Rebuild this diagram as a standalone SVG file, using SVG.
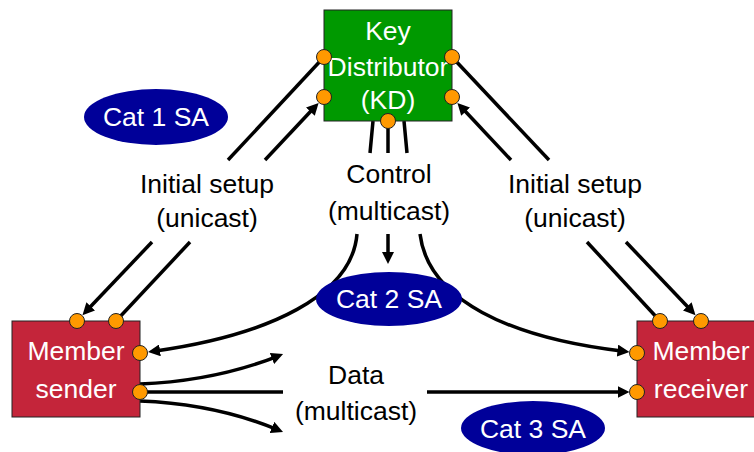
<svg xmlns="http://www.w3.org/2000/svg" width="754" height="452" viewBox="0 0 754 452">
  <defs>
    <marker id="arrow" viewBox="0 0 12 12" refX="6" refY="6" markerWidth="12" markerHeight="12" markerUnits="userSpaceOnUse" orient="auto">
      <path d="M0,0 L12,6 L0,12 z" fill="#000"/>
    </marker>
  </defs>
  <style>
    text { font-family: "Liberation Sans", Arial, sans-serif; font-size: 26.5px; text-anchor: middle; }
    .lbl { fill: #000; }
    .wt { fill: #fff; }
    .conn { fill: none; stroke: #000; stroke-width: 3.5; }
    .arr { marker-end: url(#arrow); }
    .port { fill: #FF9900; stroke: #222; stroke-width: 1; }
    .kd { fill: #009900; stroke: #222; stroke-width: 1; }
    .member { fill: #C4253A; stroke: #222; stroke-width: 1; }
    .sa { fill: #000099; }
  </style>
  <rect width="754" height="452" fill="#fff"/>

  <!-- connectors -->
  <g id="connectors">
    <!-- initial setup, left (KD <-> sender) -->
    <path class="conn" d="M324,57 L228,160"/>
    <path class="conn arr" d="M152,242 L86.6,310.8"/>
    <path class="conn" d="M116,321 L190,242"/>
    <path class="conn arr" d="M265,160 L314.5,107.3"/>
    <!-- initial setup, right (KD <-> receiver) -->
    <path class="conn" d="M452,57 L549,160"/>
    <path class="conn arr" d="M626,242 L691.4,310.8"/>
    <path class="conn" d="M660,321 L587,242"/>
    <path class="conn arr" d="M511,160 L461.5,107.3"/>
    <!-- control multicast stubs under KD -->
    <path class="conn" d="M373,121 L370,153"/>
    <path class="conn" d="M388,128 L388,153"/>
    <path class="conn" d="M404,121 L407,153"/>
    <!-- control multicast fan-out -->
    <path class="conn arr" d="M357,234 C352,295 270,335 154,351.2"/>
    <path class="conn arr" d="M388,234 L388,258"/>
    <path class="conn arr" d="M420,234 C428,300 510,338 623.5,351.3"/>
    <!-- data multicast -->
    <path class="conn arr" d="M140,384 C190,382 235,373 277.5,356.3"/>
    <path class="conn" d="M140,392 L283,392"/>
    <path class="conn arr" d="M427,392 L623.5,392"/>
    <path class="conn arr" d="M140,401 C190,403 235,412 277.5,429.7"/>
  </g>

  <!-- security association ellipses -->
  <g id="cat1">
    <ellipse class="sa" cx="156" cy="117" rx="72" ry="28"/>
    <text class="wt" x="156" y="126">Cat 1 SA</text>
  </g>
  <g id="cat2">
    <ellipse class="sa" cx="389" cy="299" rx="73" ry="27"/>
    <text class="wt" x="389" y="308">Cat 2 SA</text>
  </g>
  <g id="cat3">
    <ellipse class="sa" cx="533" cy="428" rx="72" ry="27"/>
    <text class="wt" x="533" y="438">Cat 3 SA</text>
  </g>

  <!-- key distributor -->
  <g id="kd">
    <rect class="kd" x="324" y="10" width="128" height="111"/>
    <text class="wt" x="388" y="40">Key</text>
    <text class="wt" x="388" y="76">Distributor</text>
    <text class="wt" x="388" y="109">(KD)</text>
    <circle class="port" cx="324" cy="57" r="7.5"/>
    <circle class="port" cx="324" cy="97" r="7.5"/>
    <circle class="port" cx="452" cy="57" r="7.5"/>
    <circle class="port" cx="452" cy="97" r="7.5"/>
    <circle class="port" cx="388" cy="121" r="7.5"/>
  </g>

  <!-- member sender -->
  <g id="sender">
    <rect class="member" x="12" y="321" width="128" height="96"/>
    <text class="wt" x="76" y="360">Member</text>
    <text class="wt" x="76" y="398">sender</text>
    <circle class="port" cx="77" cy="321" r="7.5"/>
    <circle class="port" cx="116" cy="321" r="7.5"/>
    <circle class="port" cx="140" cy="353" r="7.5"/>
    <circle class="port" cx="140" cy="392" r="7.5"/>
  </g>

  <!-- member receiver -->
  <g id="receiver">
    <rect class="member" x="637" y="321" width="128" height="96"/>
    <text class="wt" x="701" y="360">Member</text>
    <text class="wt" x="701" y="398">receiver</text>
    <circle class="port" cx="660" cy="321" r="7.5"/>
    <circle class="port" cx="701" cy="321" r="7.5"/>
    <circle class="port" cx="637" cy="353" r="7.5"/>
    <circle class="port" cx="637" cy="392" r="7.5"/>
  </g>

  <!-- connector labels -->
  <g id="labels">
    <text class="lbl" x="207" y="193">Initial setup</text>
    <text class="lbl" x="207" y="227">(unicast)</text>
    <text class="lbl" x="575" y="193">Initial setup</text>
    <text class="lbl" x="575" y="227">(unicast)</text>
    <text class="lbl" x="389" y="183">Control</text>
    <text class="lbl" x="389" y="220">(multicast)</text>
    <text class="lbl" x="356" y="384">Data</text>
    <text class="lbl" x="356" y="420">(multicast)</text>
  </g>
</svg>
